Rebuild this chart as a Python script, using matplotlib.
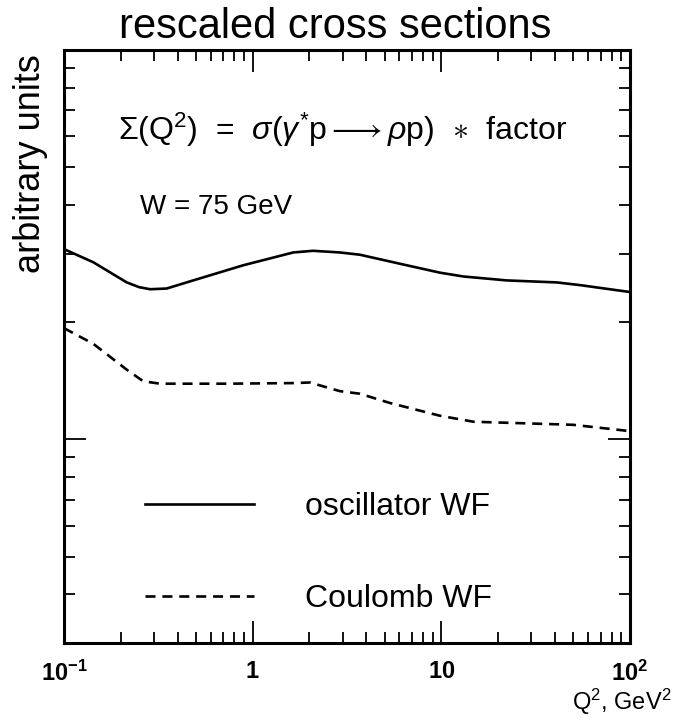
import matplotlib

matplotlib.use("Agg")
import matplotlib.pyplot as plt
from matplotlib.ticker import FixedLocator, FixedFormatter, LogLocator, NullFormatter

plt.rcParams["font.family"] = ["Liberation Sans", "DejaVu Sans"]
plt.rcParams["mathtext.fontset"] = "custom"
plt.rcParams["mathtext.rm"] = "Liberation Sans"
plt.rcParams["mathtext.it"] = "Liberation Sans:italic"
plt.rcParams["mathtext.bf"] = "Liberation Sans:bold"

# values (Q^2 in GeV^2, arbitrary units)
q2_osc = [0.1, 0.143, 0.215, 0.25, 0.286, 0.35, 0.484, 0.892, 1.64, 2.09,
          2.9, 3.7, 6.55, 9.83, 13.1, 22.2, 40.8, 54.3, 100]
sigma_osc = [3.08, 2.85, 2.53, 2.46, 2.43, 2.44, 2.56, 2.80, 3.02, 3.05,
             3.02, 2.98, 2.80, 2.68, 2.62, 2.56, 2.53, 2.49, 2.39]

q2_coul = [0.1, 0.143, 0.215, 0.263, 0.323, 0.728, 1.64, 2.01, 2.9, 3.7,
           5.34, 9.83, 14.8, 27.2, 50, 100]
sigma_coul = [1.93, 1.76, 1.51, 1.41, 1.39, 1.39, 1.395, 1.40, 1.33, 1.31,
              1.24, 1.15, 1.11, 1.10, 1.09, 1.05]

x_ticks = [0.1, 1, 10, 100]
x_tick_labels = [r"$\mathbf{10^{-1}}$", r"$\mathbf{1}$", r"$\mathbf{10}$", r"$\mathbf{10^{2}}$"]

fig = plt.figure(figsize=(6.78, 7.19), dpi=100)
ax = fig.add_axes([0.0944, 0.1057, 0.8348, 0.8248])

ax.plot(q2_osc, sigma_osc, color="black", lw=1.9, label="oscillator WF")
ax.plot(q2_coul, sigma_coul, color="black", lw=1.9, ls=(0, (3.8, 2.6)),
        label="Coulomb WF")

ax.set_xscale("log")
ax.set_yscale("log")
ax.set_xlim(0.1, 100)
ax.set_ylim(0.3, 10)

ax.xaxis.set_major_locator(FixedLocator(x_ticks))
ax.xaxis.set_major_formatter(FixedFormatter(x_tick_labels))
ax.xaxis.set_minor_locator(LogLocator(base=10, subs=range(2, 10)))
ax.xaxis.set_minor_formatter(NullFormatter())
ax.yaxis.set_major_locator(FixedLocator([1]))
ax.yaxis.set_minor_locator(LogLocator(base=10, subs=range(2, 10)))
ax.yaxis.set_major_formatter(NullFormatter())
ax.yaxis.set_minor_formatter(NullFormatter())

ax.tick_params(which="both", direction="in", top=True, right=True, width=1.3)
ax.tick_params(which="major", length=16, labelsize=17, pad=13)
ax.tick_params(which="minor", length=8)
for sp in ax.spines.values():
    sp.set_linewidth(2.2)

fig.text(0.495, 0.962, "rescaled cross sections", ha="center", va="center",
         fontsize=30)
fig.text(0.045, 0.773, "arbitrary units", ha="center", va="center",
         rotation=90, fontsize=26)
fig.text(0.99, 0.003, r"Q$^2$, GeV$^2$", ha="right", va="bottom", fontsize=17)

ax.text(0.095, 0.865,
        r"$\Sigma$(Q$^2$)  =  $\sigma$($\gamma^{*}$p$\longrightarrow\rho$p)  $\ast$  factor",
        transform=ax.transAxes, fontsize=23, va="center", ha="left")
ax.text(0.135, 0.735, "W = 75 GeV", transform=ax.transAxes, fontsize=20,
        va="center", ha="left")

ax.legend(loc="upper left", bbox_to_anchor=(0.143, 0.255), frameon=False,
          fontsize=23, handlelength=3.4, handletextpad=1.6, labelspacing=1.95,
          borderpad=0, borderaxespad=0)

fig.savefig("out.png", dpi=100)
